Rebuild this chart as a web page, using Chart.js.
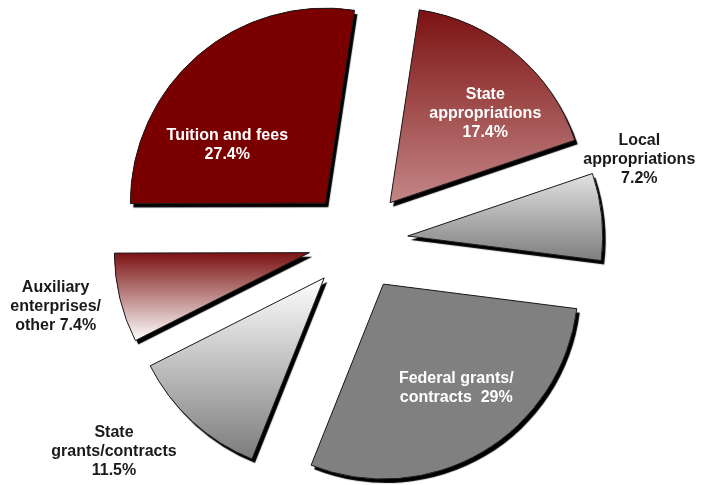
<!DOCTYPE html>
<html>
<head>
<meta charset="utf-8">
<title>Revenue sources</title>
<script src="https://cdn.jsdelivr.net/npm/chart.js@4.4.0/dist/chart.umd.min.js"></script>
<style>
  html, body { margin: 0; padding: 0; background: #fff; }
</style>
</head>
<body>
<canvas id="revenue-chart" width="704" height="485"></canvas>
<script>
// slices, clockwise from just right of 12 o'clock
const CATEGORIES = [
  "State appropriations",
  "Local appropriations",
  "Federal grants/contracts",
  "State grants/contracts",
  "Auxiliary enterprises/other",
  "Tuition and fees",
];
const SHARES = [17.4, 7.2, 29, 11.5, 7.4, 27.4];
// label text, "%v" is replaced by the share
const LABEL_LINES = [
  ["State", "appropriations", "%v%"],
  ["Local", "appropriations", "%v%"],
  ["Federal grants/", "contracts  %v%"],
  ["State", "grants/contracts", "%v%"],
  ["Auxiliary", "enterprises/", "other %v%"],
  ["Tuition and fees", "%v%"],
];

// styling
const TOP_COLORS = ["#7c1212", "#e2e2e2", "#808080", "#ffffff", "#7c1212", "#7a0000"];
const BOTTOM_COLORS = ["#c48686", "#7e7e7e", "#808080", "#7c7c7c", "#ffffff", "#7a0000"];
const EXPLODE = 50;
// label placement: shift from slice mid angle (deg) and distance as share of radius
const LABEL_ANGLE = [6.8, -12.5, -4.6, 7.9, 1.5, -18.5];
const LABEL_DIST = [0.67, 1.25, 0.65, 1.40, 1.33, 0.585];

class ExplodedArc extends Chart.ArcElement {
  draw(ctx) {
    const mid = (this.startAngle + this.endAngle) / 2;
    ctx.save();
    ctx.translate(Math.cos(mid) * EXPLODE, Math.sin(mid) * EXPLODE);

    // shadow pass, fill only
    const bw = this.options.borderWidth;
    ctx.save();
    ctx.shadowColor = "#000";
    ctx.shadowOffsetX = 3;
    ctx.shadowOffsetY = 4;
    ctx.shadowBlur = 1;
    this.options.borderWidth = 0;
    super.draw(ctx);
    this.options.borderWidth = bw;
    ctx.restore();

    super.draw(ctx);
    ctx.restore();
  }
}
ExplodedArc.id = "explodedArc";

class ExplodedPieController extends Chart.PieController {}
ExplodedPieController.id = "explodedPie";
ExplodedPieController.defaults = { dataElementType: "explodedArc" };

Chart.register(ExplodedArc, ExplodedPieController);

const pieStyle = {
  id: "pieStyle",
  beforeDatasetsDraw(chart) {
    const ctx = chart.ctx;
    chart.getDatasetMeta(0).data.forEach((arc, i) => {
      // gradient over the slice height (slice is drawn in shifted space)
      let top = arc.y, bottom = arc.y;
      for (let k = 0; k <= 40; k++) {
        const a = arc.startAngle + (arc.endAngle - arc.startAngle) * k / 40;
        const y = arc.y + Math.sin(a) * arc.outerRadius;
        top = Math.min(top, y);
        bottom = Math.max(bottom, y);
      }
      const g = ctx.createLinearGradient(0, top, 0, bottom);
      g.addColorStop(0, TOP_COLORS[i]);
      g.addColorStop(1, BOTTOM_COLORS[i]);
      arc.options.backgroundColor = g;
    });
  },
  afterDatasetsDraw(chart) {
    const ctx = chart.ctx;
    ctx.save();
    ctx.font = "bold 16px 'Liberation Sans', Arial, sans-serif";
    ctx.textAlign = "center";
    ctx.textBaseline = "middle";
    const lineHeight = 19;
    chart.getDatasetMeta(0).data.forEach((arc, i) => {
      const mid = (arc.startAngle + arc.endAngle) / 2;
      const a = mid + LABEL_ANGLE[i] * Math.PI / 180;
      const r = arc.outerRadius * LABEL_DIST[i];
      const cx = arc.x + Math.cos(mid) * EXPLODE + Math.cos(a) * r;
      const cy = arc.y + Math.sin(mid) * EXPLODE + Math.sin(a) * r;
      const lines = LABEL_LINES[i].map((s) => s.replace("%v", SHARES[i]));
      ctx.fillStyle = LABEL_DIST[i] < 1 ? "#ffffff" : "#1a1a1a";
      lines.forEach((line, k) => {
        ctx.fillText(line, cx, cy + (k - (lines.length - 1) / 2) * lineHeight);
      });
    });
    ctx.restore();
  },
};

function createChart(ctx) {
  return new Chart(ctx, {
    type: "explodedPie",
    data: {
      labels: CATEGORIES,
      datasets: [
        {
          data: SHARES,
          backgroundColor: TOP_COLORS.slice(),
          borderColor: "#1a1a1a",
          borderWidth: 1,
          radius: 195,
        },
      ],
    },
    options: {
      responsive: false,
      animation: false,
      rotation: 8.6,
      layout: { padding: { left: 12, right: 0, top: 0, bottom: 3 } },
      plugins: {
        legend: { display: false },
        tooltip: { enabled: false },
      },
    },
    plugins: [pieStyle],
  });
}

createChart(document.getElementById("revenue-chart").getContext("2d"));
</script>
</body>
</html>
